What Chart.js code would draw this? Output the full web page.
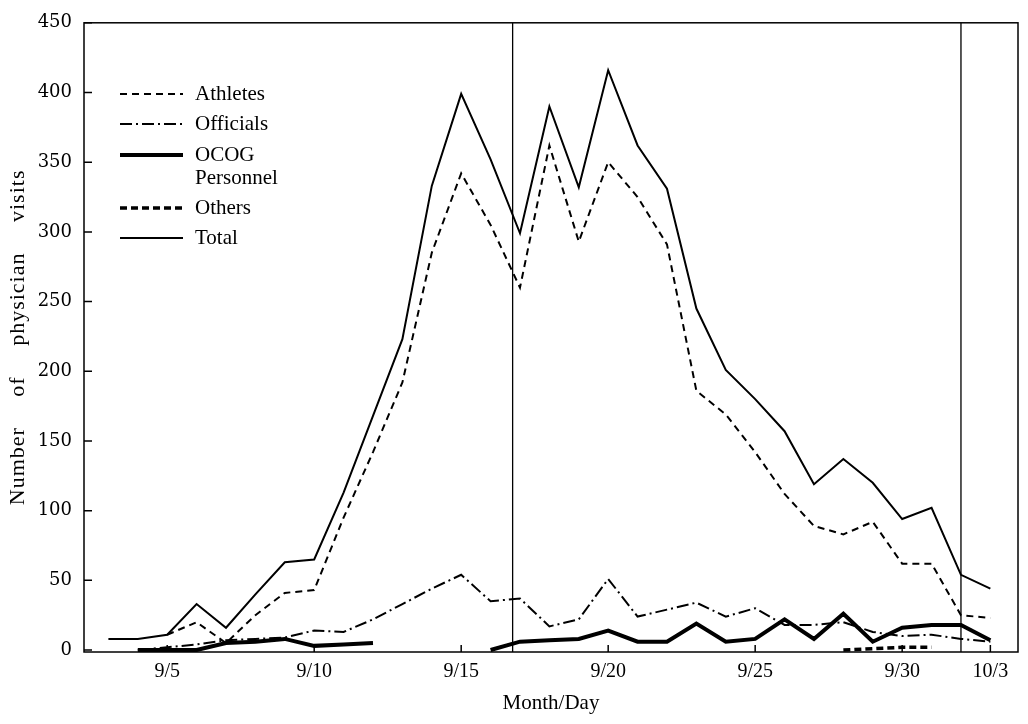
<!DOCTYPE html>
<html>
<head>
<meta charset="utf-8">
<script src="https://cdn.jsdelivr.net/npm/chart.js@4.4.1/dist/chart.umd.min.js"></script>
<style>
  html, body { margin: 0; padding: 0; background: #fff; }
  #wrap { width: 1028px; height: 724px; }
</style>
</head>
<body>
<div id="wrap"><canvas id="chart" width="1028" height="724"></canvas></div>
<script>
// Day index 0 = 9/3 ... 30 = 10/3
const dayLabels = ["9/3","9/4","9/5","9/6","9/7","9/8","9/9","9/10","9/11","9/12","9/13","9/14","9/15","9/16","9/17",
  "9/18","9/19","9/20","9/21","9/22","9/23","9/24","9/25","9/26","9/27","9/28","9/29","9/30","10/1","10/2","10/3"];

const athletes = [null, null, 11, 20, 5, 25, 41, 43, 95, 142, 192, 285, 342, 305, 260, 362, 293, 350, 325, 291,
  186, 169, 142, 112, 89, 83, 92, 62, 62, 25, 23];
const officials = [null, 0, 2, 4, 7, 8, 9, 14, 13, 22, 33, 44, 54, 35, 37, 17, 22, 51, 24, 29,
  34, 24, 30, 18, 18, 20, 13, 10, 11, 8, 6];
const ocog = [null, 0, 0, 0, 5, 6, 8, 3, 4, 5, null, null, null, 0, 6, 7, 8, 14, 6, 6,
  19, 6, 8, 22, 8, 26, 6, 16, 18, 18, 7];
const others = [null, null, null, null, null, null, null, null, null, null, null, null, null, null, null, null, null, null, null, null,
  null, null, null, null, null, 0, 1, 2, 2, null, null];
const total = [8, 8, 11, 33, 16, 40, 63, 65, 113, 168, 223, 333, 399, 352, 299, 390, 332, 416, 362, 331,
  245, 201, 180, 157, 119, 137, 120, 94, 102, 54, 44];

const xTickDays = [2, 7, 12, 17, 22, 27, 30];
const yTicks = [0, 50, 100, 150, 200, 250, 300, 350, 400, 450];
const markerDays = [13.75, 29];
const yTitle = "Number of physician visits";

const serif = "'Liberation Serif', 'Times New Roman', serif";

function toPoints(arr) {
  return arr.map((v, i) => ({ x: i, y: v }));
}

// frame, inward ticks, vertical markers, legend, spaced y title
const decor = {
  id: "decor",
  afterDraw(chart) {
    const { ctx, chartArea: a, scales } = chart;
    const xs = scales.x, ys = scales.y;
    ctx.save();
    ctx.strokeStyle = "#000";
    ctx.lineWidth = 1.5;
    ctx.setLineDash([]);
    ctx.strokeRect(a.left, a.top, a.right - a.left, a.bottom - a.top);

    ctx.beginPath();
    xTickDays.forEach(d => {
      const px = xs.getPixelForValue(d);
      ctx.moveTo(px, a.bottom);
      ctx.lineTo(px, a.bottom - 7);
    });
    yTicks.forEach(v => {
      const py = ys.getPixelForValue(v);
      ctx.moveTo(a.left, py);
      ctx.lineTo(a.left + 8, py);
    });
    ctx.stroke();

    ctx.lineWidth = 1.3;
    ctx.beginPath();
    markerDays.forEach(d => {
      const px = xs.getPixelForValue(d);
      ctx.moveTo(px, a.top);
      ctx.lineTo(px, a.bottom);
    });
    ctx.stroke();

    // legend
    const rows = [
      { ds: 0, y: 94, text: ["Athletes"] },
      { ds: 1, y: 124, text: ["Officials"] },
      { ds: 2, y: 155, text: ["OCOG", "Personnel"] },
      { ds: 3, y: 208, text: ["Others"] },
      { ds: 4, y: 238, text: ["Total"] }
    ];
    ctx.font = "21px " + serif;
    ctx.fillStyle = "#000";
    ctx.textBaseline = "middle";
    rows.forEach(r => {
      const ds = chart.data.datasets[r.ds];
      ctx.lineWidth = ds.borderWidth;
      ctx.setLineDash(ds.borderDash || []);
      ctx.beginPath();
      ctx.moveTo(120, r.y);
      ctx.lineTo(183, r.y);
      ctx.stroke();
      ctx.setLineDash([]);
      r.text.forEach((t, i) => ctx.fillText(t, 195, r.y + i * 23));
    });

    // y axis title, wide word gaps as in the print
    ctx.translate(18, (a.top + a.bottom) / 2);
    ctx.rotate(-Math.PI / 2);
    ctx.textAlign = "center";
    ctx.textBaseline = "middle";
    ctx.font = "22px " + serif;
    if ("letterSpacing" in ctx) ctx.letterSpacing = "1px";
    if ("wordSpacing" in ctx) ctx.wordSpacing = "24px";
    ctx.fillText(yTitle, 0, 0);
    ctx.restore();
  }
};

new Chart(document.getElementById("chart"), {
  type: "line",
  data: {
    datasets: [
      { label: "Athletes", data: toPoints(athletes), borderColor: "#000", borderWidth: 2, borderDash: [7, 5] },
      { label: "Officials", data: toPoints(officials), borderColor: "#000", borderWidth: 2, borderDash: [12, 4, 2, 4] },
      { label: "OCOG Personnel", data: toPoints(ocog), borderColor: "#000", borderWidth: 4, borderDash: [] },
      { label: "Others", data: toPoints(others), borderColor: "#000", borderWidth: 3.5, borderDash: [7, 4] },
      { label: "Total", data: toPoints(total), borderColor: "#000", borderWidth: 2, borderDash: [] }
    ]
  },
  options: {
    responsive: false,
    animation: false,
    spanGaps: false,
    elements: { point: { radius: 0 }, line: { tension: 0 } },
    layout: { padding: { left: 0, right: 10, top: 17, bottom: 0 } },
    plugins: { legend: { display: false }, tooltip: { enabled: false } },
    scales: {
      x: {
        type: "linear",
        min: -0.83,
        max: 30.94,
        afterBuildTicks: s => { s.ticks = xTickDays.map(v => ({ value: v })); },
        afterFit: s => { s.height = 72; },
        grid: { display: false, drawTicks: false },
        border: { display: false },
        ticks: {
          color: "#000",
          padding: 8,
          maxRotation: 0,
          font: { family: serif, size: 20 },
          callback: v => dayLabels[v]
        },
        title: {
          display: true,
          text: "Month/Day",
          color: "#000",
          font: { family: serif, size: 21 },
          padding: { top: 0, bottom: 8 }
        }
      },
      y: {
        min: -1.4,
        max: 450,
        afterBuildTicks: s => { s.ticks = yTicks.map(v => ({ value: v })); },
        afterFit: s => { s.width = 84; },
        grid: { display: false, drawTicks: false },
        border: { display: false },
        ticks: {
          color: "#000",
          padding: 12,
          font: { family: "'DejaVu Serif', serif", size: 18 }
        },
        title: { display: false }
      }
    }
  },
  plugins: [decor]
});
</script>
</body>
</html>
